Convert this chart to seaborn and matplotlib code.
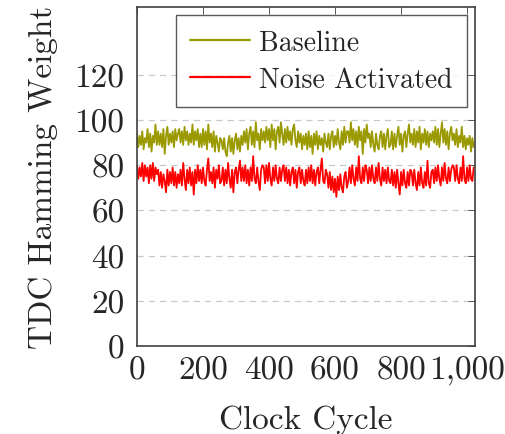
import numpy as np
import pandas as pd
import matplotlib
matplotlib.use("Agg")
import matplotlib.pyplot as plt
import seaborn as sns

# ---- data (one value every 4 cycles) ----
cycle_step = 4
baseline = [
    94, 88, 93, 89, 95, 87, 92, 90, 96, 88, 94, 86, 93, 90, 98, 89,
    95, 89, 94, 88, 96, 85, 93, 97, 89, 94, 90, 95, 88, 96, 91, 94,
    96, 90, 95, 89, 97, 91, 95, 89, 94, 90, 98, 89, 95, 91, 96, 88,
    94, 88, 96, 89, 95, 87, 98, 90, 94, 88, 95, 86, 93, 90, 86, 92,
    91, 87, 92, 86, 84, 90, 93, 86, 92, 85, 91, 94, 87, 92, 86, 93,
    89, 95, 90, 96, 87, 94, 97, 89, 95, 88, 99, 91, 94, 87, 96, 91,
    95, 90, 97, 91, 96, 88, 98, 91, 96, 87, 95, 97, 90, 99, 94, 89,
    96, 90, 97, 91, 95, 89, 96, 98, 91, 88, 95, 90, 94, 87, 93, 89,
    94, 87, 95, 88, 93, 85, 94, 89, 95, 87, 93, 89, 92, 86, 94, 90,
    88, 94, 87, 93, 95, 88, 93, 89, 96, 90, 87, 95, 89, 97, 90, 95,
    95, 90, 99, 91, 96, 89, 95, 88, 97, 91, 95, 85, 96, 90, 98, 92,
    94, 88, 95, 89, 86, 94, 89, 87, 93, 95, 88, 94, 87, 93, 96, 88,
    89, 95, 87, 94, 88, 93, 97, 89, 94, 86, 93, 95, 88, 94, 98, 90,
    94, 89, 96, 88, 95, 90, 97, 87, 94, 90, 96, 89, 95, 88, 94, 91,
    95, 90, 97, 89, 96, 88, 94, 99, 90, 96, 89, 95, 87, 94, 97, 91,
    94, 89, 96, 88, 93, 90, 97, 88, 93, 87, 92, 89, 93, 86, 92, 88,
]
noise_activated = [
    80, 74, 79, 75, 81, 73, 80, 75, 79, 72, 80, 74, 81, 73, 79, 76,
    78, 71, 77, 70, 76, 73, 68, 78, 71, 77, 72, 79, 71, 77, 70, 76,
    72, 78, 71, 81, 74, 69, 78, 72, 79, 71, 77, 67, 78, 72, 80, 73,
    78, 72, 79, 73, 71, 78, 83, 73, 77, 72, 79, 70, 78, 74, 80, 72,
    73, 79, 71, 78, 72, 81, 74, 70, 78, 68, 77, 79, 72, 78, 82, 73,
    79, 73, 80, 72, 78, 71, 79, 73, 84, 74, 72, 79, 73, 69, 78, 80,
    79, 72, 80, 73, 81, 74, 71, 79, 73, 80, 74, 72, 79, 73, 78, 80,
    73, 79, 72, 78, 71, 77, 79, 72, 78, 70, 77, 79, 72, 78, 73, 71,
    78, 72, 79, 73, 80, 72, 78, 71, 77, 79, 72, 78, 83, 73, 72, 78,
    76, 70, 77, 69, 75, 68, 74, 66, 75, 69, 76, 70, 68, 75, 77, 70,
    73, 79, 72, 80, 74, 71, 79, 73, 84, 74, 72, 79, 73, 80, 78, 72,
    79, 73, 80, 74, 72, 79, 73, 81, 74, 71, 79, 73, 78, 72, 79, 73,
    72, 78, 71, 77, 70, 78, 72, 67, 77, 71, 78, 72, 70, 77, 71, 78,
    77, 71, 78, 72, 69, 77, 71, 79, 72, 70, 77, 71, 82, 72, 70, 77,
    78, 72, 79, 73, 80, 74, 71, 79, 73, 81, 74, 72, 79, 73, 78, 80,
    79, 73, 80, 74, 72, 79, 73, 84, 74, 72, 79, 73, 80, 74, 73, 79,
]
series_names = ["Baseline", "Noise Activated"]
x_ticks = [0, 200, 400, 600, 800, 1000]
x_tick_labels = ["0", "200", "400", "600", "800", "1,000"]
y_ticks = [0, 20, 40, 60, 80, 100, 120]
y_tick_labels = ["0", "20", "40", "60", "80", "100", "120"]

cycles = np.arange(len(baseline)) * cycle_step
df = pd.concat([
    pd.DataFrame({"Clock Cycle": cycles, "HW": baseline, "series": series_names[0]}),
    pd.DataFrame({"Clock Cycle": cycles, "HW": noise_activated, "series": series_names[1]}),
])

sns.set_style("white")
plt.rcParams["font.family"] = ["cmr10", "DejaVu Serif"]
plt.rcParams["mathtext.fontset"] = "cm"
plt.rcParams["axes.formatter.use_mathtext"] = True

fig = plt.figure(figsize=(5.06, 4.35), dpi=100)
ax = fig.add_axes([137 / 506, 1 - 347 / 435, (475 - 137) / 506, (347 - 8) / 435])

palette = {series_names[0]: "#9a9a00", series_names[1]: "#ff0000"}
sns.lineplot(data=df, x="Clock Cycle", y="HW", hue="series", palette=palette,
             estimator=None, linewidth=1.3, ax=ax)

ax.set_xlim(0, 1024)
ax.set_ylim(0, 150)
ax.set_xticks(x_ticks)
ax.set_xticklabels(x_tick_labels)
ax.set_yticks(y_ticks)
ax.set_yticklabels(y_tick_labels)

for yv in y_ticks[1:]:
    ax.axhline(yv, color="#c8c8c8", lw=0.9, ls=(0, (5, 4)), zorder=0)

ax.tick_params(axis="both", which="major", direction="in", length=5, width=0.7,
               color="#555555", labelsize=24, top=True, right=True)
ax.tick_params(axis="x", pad=7)
ax.tick_params(axis="y", pad=9)
for s in ax.spines.values():
    s.set_color("#404040")
    s.set_linewidth(1.2)

ax.set_xlabel("Clock Cycle", fontsize=24, labelpad=14)
ax.set_ylabel("TDC Hamming Weight", fontsize=24, labelpad=12)

leg = ax.legend(loc="upper right", fontsize=20, frameon=True, fancybox=False,
                edgecolor="#303030", handlelength=2.15, borderaxespad=0.3,
                borderpad=0.5, labelspacing=0.4, handletextpad=0.35)
leg.get_frame().set_linewidth(1.0)
for line in leg.get_lines():
    line.set_linewidth(1.6)

fig.savefig("out.png", dpi=100)
